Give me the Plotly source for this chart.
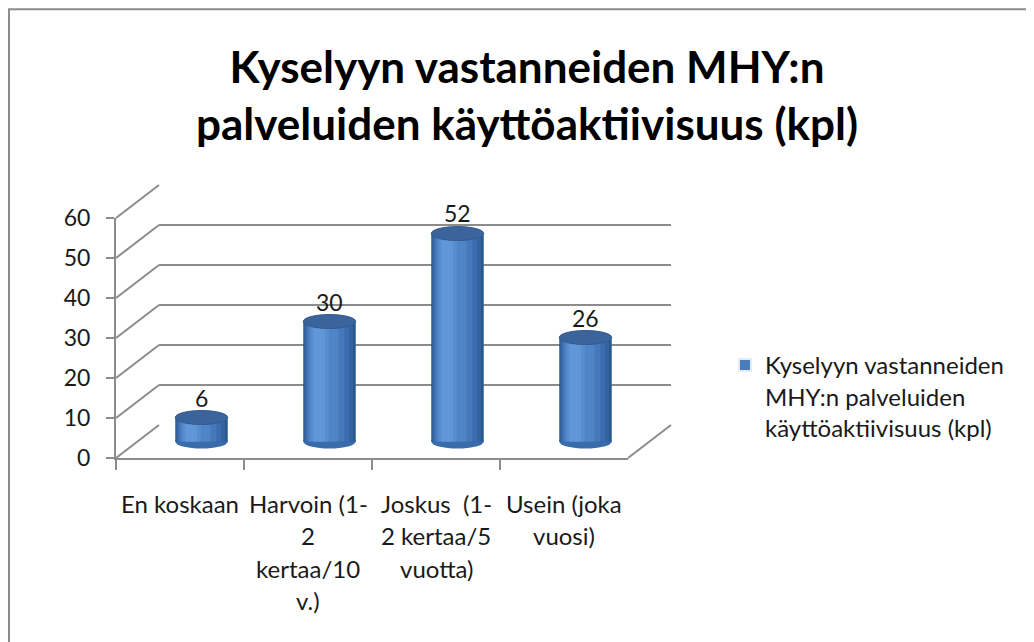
import plotly.graph_objects as go

# ---- data ----
categories = ["En koskaan", "Harvoin (1-2 kertaa/10 v.)", "Joskus  (1-2 kertaa/5 vuotta)", "Usein (joka vuosi)"]
category_lines = [["En koskaan"], ["Harvoin (1-", "2", "kertaa/10", "v.)"],
                  ["Joskus  (1-", "2 kertaa/5", "vuotta)"], ["Usein (joka", "vuosi)"]]
values = [6, 30, 52, 26]
series_name = "Kyselyyn vastanneiden<br>MHY:n palveluiden<br>käyttöaktiivisuus (kpl)"
title_text = "Kyselyyn vastanneiden MHY:n<br>palveluiden käyttöaktiivisuus (kpl)"
y_ticks = [0, 10, 20, 30, 40, 50, 60]

W, H = 1034, 642
FONT = "Lato"
GRID = "#8c8c8c"
TXT = "#1a1a1a"

# screen-pixel -> paper conversion (the page body puts the figure at an 8px offset)
OX, OY = 8.0, 8.0


def px(x):
    return (x - OX) / W


def py(y):
    return 1 - (y - OY) / H


# target pixel geometry of the pseudo-3D frame
FX0, FX1 = 116, 628          # front plane x extent
FY0, PPU = 458, 4.0          # front plane pixel y of value 0, pixels per unit
DX, DY = 43, -33             # depth offset to the back wall
YMAX = 60
MID_LOW = -5                 # mid plane axis starts below 0 to fit the cylinder bottoms


def front_y(v):
    return FY0 - PPU * v


fig = go.Figure()

# invisible trace so the back-wall subplot (gridlines) is created
fig.add_trace(go.Scatter(x=categories, y=values, xaxis="x2", yaxis="y2", mode="markers",
                         marker=dict(opacity=0), showlegend=False, hoverinfo="skip"))

# cylinders (layered bars for shading) on the middle-depth plane
cw = 0.41
L = -cw / 2
layers = [
    (L, cw, "#2b568d"),
    (L + 0.008, cw - 0.03, "#3463a0"),
    (L + 0.018, cw - 0.07, "#3d6dae"),
    (L + 0.03, cw - 0.12, "#4678b9"),
    (L + 0.045, cw - 0.18, "#4f84c6"),
    (L + 0.06, 0.14, "#578ed0"),
    (L + 0.08, 0.09, "#5f97d9"),
]
for i, (off, wd, col) in enumerate(layers):
    fig.add_trace(go.Bar(
        x=categories, y=values, xaxis="x3", yaxis="y3",
        offset=off, width=wd, marker=dict(color=col, line=dict(width=0)),
        showlegend=False, hoverinfo="skip" if i else None,
        name="Kyselyyn vastanneiden MHY:n palveluiden käyttöaktiivisuus (kpl)",
    ))

# legend entry
fig.add_trace(go.Bar(
    x=[categories[0]], y=[None], xaxis="x3", yaxis="y3",
    marker=dict(color="#4a7ebb"), name=series_name, showlegend=True,
))

shapes = []
# cylinder bottom and top ellipses
ry = 1.75
for idx, v in enumerate(values):
    shapes.append(dict(type="circle", xref="x3", yref="y3", layer="below",
                       x0=idx + L, x1=idx - L, y0=-ry, y1=ry,
                       fillcolor="#3a6cab", line=dict(width=0)))
    shapes.append(dict(type="circle", xref="x3", yref="y3", layer="above",
                       x0=idx + L, x1=idx - L, y0=v - ry, y1=v + ry,
                       fillcolor="#3a649b", line=dict(color="#335b8f", width=1)))

# side wall diagonals from front axis to back wall
for t in y_ticks:
    shapes.append(dict(type="line", xref="paper", yref="paper", layer="below",
                       x0=px(FX0), y0=py(front_y(t)), x1=px(FX0 + DX), y1=py(front_y(t) + DY),
                       line=dict(color=GRID, width=2)))
# floor right edge
shapes.append(dict(type="line", xref="paper", yref="paper", layer="below",
                   x0=px(FX1), y0=py(front_y(0)), x1=px(FX1 + DX), y1=py(front_y(0) + DY),
                   line=dict(color=GRID, width=2)))
# chart border
shapes.append(dict(type="rect", xref="paper", yref="paper", layer="below",
                   x0=px(9), y0=0.998, x1=1.02, y1=-0.02,
                   line=dict(color="#8c8c8c", width=2), fillcolor="rgba(0,0,0,0)"))

annotations = []
# data labels
for c, v in zip(categories, values):
    annotations.append(dict(x=c, y=v, xref="x3", yref="y3", text=str(v), showarrow=False,
                            yshift=20, yanchor="middle",
                            font=dict(family=FONT, size=23, color=TXT)))
# category labels (wrapped as in the source)
for c, lines in zip(categories, category_lines):
    for k, line in enumerate(lines):
        annotations.append(dict(x=c, xref="x", y=py(503 + 32.5 * k), yref="paper",
                                text=line, showarrow=False, yanchor="middle", xanchor="center",
                                font=dict(family=FONT, size=24, color=TXT)))

fig.update_layout(
    width=W, height=H, autosize=False,
    margin=dict(l=0, r=0, t=0, b=0),
    paper_bgcolor="white", plot_bgcolor="rgba(0,0,0,0)",
    barmode="overlay",
    title=dict(text="<b>" + title_text + "</b>", x=px(527), xanchor="center",
               y=py(83), yanchor="middle",
               font=dict(family=FONT, size=44, color="#000000")),
    showlegend=True,
    legend=dict(x=px(725), y=py(343), xanchor="left", yanchor="top", valign="top",
                font=dict(family=FONT, size=24, color=TXT),
                bgcolor="rgba(0,0,0,0)", itemsizing="constant"),
    # front plane: axes, ticks and labels
    xaxis=dict(domain=[px(FX0), px(FX1)], range=[-0.5, 3.5], type="category",
               categoryorder="array", categoryarray=categories,
               showticklabels=False, ticks="outside", tickson="boundaries", ticklen=10,
               tickwidth=2, tickcolor=GRID, showline=True, linecolor=GRID, linewidth=2,
               showgrid=False, zeroline=False, fixedrange=True, automargin=False),
    yaxis=dict(domain=[py(front_y(0)), py(front_y(YMAX))], range=[0, YMAX],
               tickvals=y_ticks, ticks="outside", ticklen=8, tickwidth=2, tickcolor=GRID,
               showline=True, linecolor=GRID, linewidth=2, showgrid=False, zeroline=False,
               ticklabelstandoff=11, automargin=False,
               tickfont=dict(family=FONT, size=23, color=TXT), fixedrange=True),
    # back wall: gridlines
    xaxis2=dict(domain=[px(FX0 + DX), px(FX1 + DX)], range=[-0.5, 3.5], anchor="y2",
                type="category", categoryorder="array", categoryarray=categories,
                showticklabels=False, showgrid=False, zeroline=False, showline=False,
                ticks="", fixedrange=True, automargin=False),
    yaxis2=dict(domain=[py(front_y(0) + DY), py(front_y(YMAX) + DY)], range=[-0.02, YMAX + 0.02],
                anchor="x2", tickvals=y_ticks, showticklabels=False, showgrid=True,
                gridcolor=GRID, gridwidth=2, zeroline=False, showline=False, ticks="",
                fixedrange=True, automargin=False),
    # middle depth plane: cylinders
    xaxis3=dict(domain=[px(FX0 + DX / 2), px(FX1 + DX / 2)], range=[-0.5, 3.5], anchor="y3",
                type="category", categoryorder="array", categoryarray=categories,
                showticklabels=False, showgrid=False, zeroline=False, showline=False,
                ticks="", fixedrange=True, automargin=False),
    yaxis3=dict(domain=[py(front_y(MID_LOW) + DY / 2), py(front_y(YMAX) + DY / 2)],
                range=[MID_LOW, YMAX], anchor="x3", showticklabels=False, showgrid=False,
                zeroline=False, showline=False, ticks="", fixedrange=True, automargin=False),
    shapes=shapes,
    annotations=annotations,
)

fig.write_html("out.html")
